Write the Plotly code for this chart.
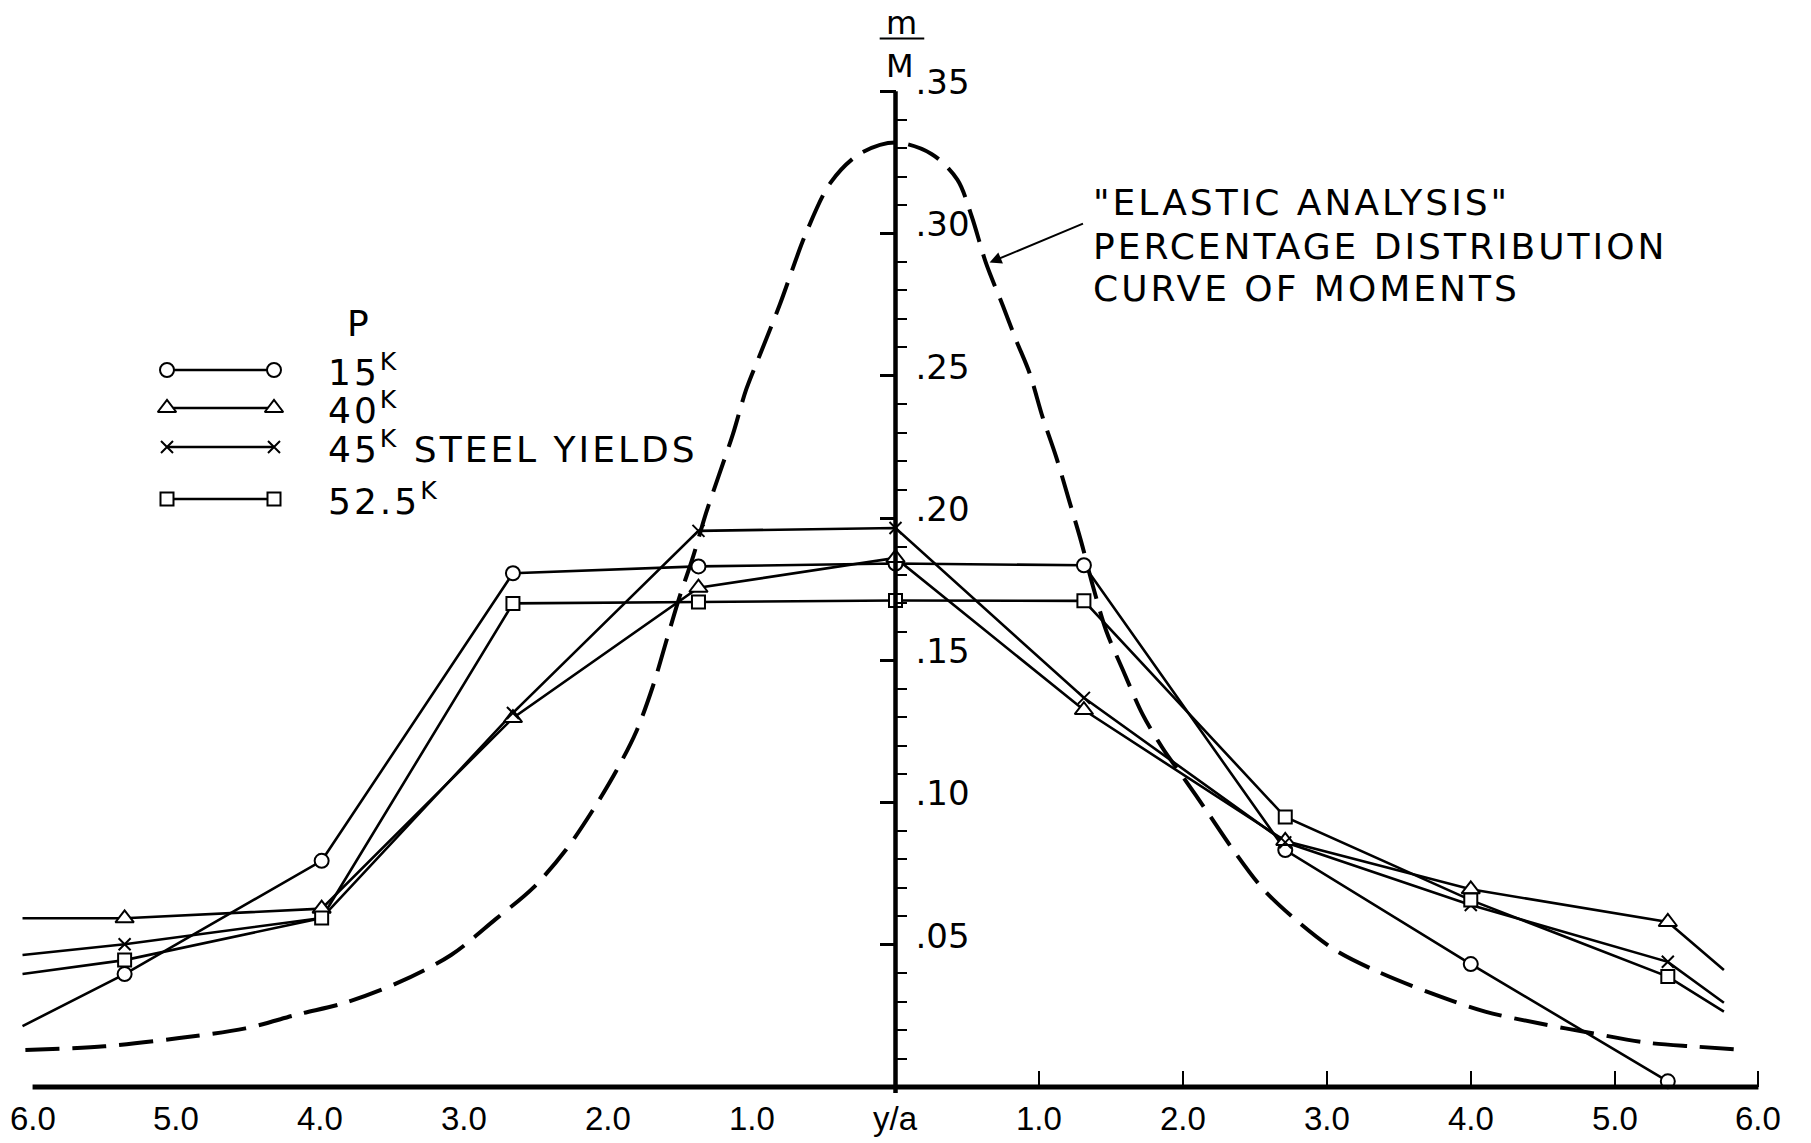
import plotly.graph_objects as go

# ---- measured moment ratios m/M across the slab width (y/a) ----
y_over_a = [-6.07, -5.36, -3.99, -2.66, -1.37, 0.0, 1.31, 2.71, 4.0, 5.37, 5.76]

m_15k = [0.0214, 0.0397, 0.0795, 0.1806, 0.1830, 0.1840, 0.1834, 0.0833, 0.0432, 0.0020, None]
m_40k = [0.0593, 0.0593, 0.0627, 0.1297, 0.1755, 0.1860, 0.1325, 0.0865, 0.0695, 0.0580, 0.0411]
m_45k = [0.0464, 0.0502, 0.0594, 0.1315, 0.1955, 0.1965, 0.1368, 0.0860, 0.0640, 0.0440, 0.0296]
m_52k = [0.0397, 0.0446, 0.0594, 0.1700, 0.1705, 0.1710, 0.1709, 0.0949, 0.0657, 0.0388, 0.0265]

# ---- "elastic analysis" distribution curve ----
elastic_x = [-6.05, -5.5, -4.98, -4.52, -4.15, -3.84, -3.47, -3.09, -2.78, -2.52, -2.29,
             -2.105, -1.942, -1.803, -1.688, -1.595, -1.502, -1.41, -1.317, -1.224, -1.131,
             -1.038, -0.946, -0.807, -0.621, -0.45, -0.25, 0.0,
             0.25, 0.43, 0.53, 0.63, 0.746, 0.839, 0.932, 1.024, 1.117, 1.21, 1.29,
             1.372, 1.465, 1.581, 1.72, 1.859, 1.998, 2.16, 2.346, 2.554, 2.785, 3.058,
             3.356, 3.728, 4.10, 4.473, 4.846, 5.22, 5.566, 5.84]
elastic_m = [0.0130, 0.0143, 0.0172, 0.0206, 0.0256, 0.0294, 0.0364, 0.0464, 0.0590, 0.0700, 0.0835,
             0.0973, 0.1111, 0.1249, 0.1407, 0.1565, 0.1722, 0.1860, 0.2018, 0.2156, 0.2294,
             0.2452, 0.2570, 0.2747, 0.3003, 0.3180, 0.3280, 0.3320,
             0.3280, 0.3190, 0.3060, 0.2895, 0.2747, 0.2625, 0.2510, 0.2353, 0.2215, 0.2057, 0.1919,
             0.1762, 0.1604, 0.1466, 0.1308, 0.1190, 0.1091, 0.0973, 0.0835, 0.0697, 0.0587, 0.0481,
             0.0405, 0.0329, 0.0265, 0.0224, 0.0189, 0.0156, 0.0142, 0.0132]

# ---- axis ticks ----
x_tick_vals = [-6, -5, -4, -3, -2, -1, 0, 1, 2, 3, 4, 5, 6]
x_tick_text = ["6.0", "5.0", "4.0", "3.0", "2.0", "1.0", "y/a",
               "1.0", "2.0", "3.0", "4.0", "5.0", "6.0"]
y_tick_vals = [0.05, 0.10, 0.15, 0.20, 0.25, 0.30, 0.35]
y_tick_text = [".05", ".10", ".15", ".20", ".25", ".30", ".35"]
y_minor_vals = [i / 100 for i in range(1, 35) if i % 5 != 0]

legend_labels = ["15<sup>K</sup>", "40<sup>K</sup>",
                 "45<sup>K</sup> STEEL YIELDS", "52.5<sup>K</sup>"]

# ---- page geometry ----
W, H = 1811, 1143
L, R, T, B = 11, 31, 6, 56
PW, PH = W - L - R, H - T - B
X_RANGE = [-6.15, 6.15]
Y_RANGE = [0.0, 0.38]

FONT = "DejaVu Sans"
INK = "black"


def spaced(s, px=3):
    return f'<span style="letter-spacing:{px}px">{s}</span>'


def to_paper(px, py):
    return (px - L) / PW, (H - B - py) / PH


def y_paper(v):
    return (v - Y_RANGE[0]) / (Y_RANGE[1] - Y_RANGE[0])


series = [
    (m_15k, "circle", 14),
    (m_40k, "triangle-up", 16),
    (m_45k, "x-thin-open", 12),
    (m_52k, "square", 13),
]

fig = go.Figure()

# elastic curve
fig.add_trace(go.Scatter(
    x=elastic_x, y=elastic_m, mode="lines",
    line=dict(color=INK, width=4, dash="34px,13px", shape="spline", smoothing=0.9),
    hoverinfo="skip"))

# measured distributions: lines first, markers on top
for vals, sym, size in series:
    fig.add_trace(go.Scatter(
        x=y_over_a, y=vals, mode="lines",
        line=dict(color=INK, width=2.6), connectgaps=False, hoverinfo="skip"))

for vals, sym, size in series:
    opac = [0 if (i == 0 or i == len(vals) - 1) else 1 for i in range(len(vals))]
    fill = INK if sym.startswith("x") else "white"
    fig.add_trace(go.Scatter(
        x=y_over_a, y=vals, mode="markers", cliponaxis=False,
        marker=dict(symbol=sym, size=size, color=fill, opacity=opac,
                    line=dict(color=INK, width=2)),
        hoverinfo="skip"))

# legend key drawn on an overlay frame in plot-area fractions
legend_rows_px = [370, 408, 447, 499]
legend_x_px = (167, 274)
for (vals, sym, size), row in zip(series, legend_rows_px):
    (x0, yy), (x1, _) = to_paper(legend_x_px[0], row), to_paper(legend_x_px[1], row)
    fill = INK if sym.startswith("x") else "white"
    fig.add_trace(go.Scatter(
        x=[x0, x1], y=[yy, yy], xaxis="x2", yaxis="y2", mode="lines+markers",
        cliponaxis=False,
        line=dict(color=INK, width=2.6),
        marker=dict(symbol=sym, size=size, color=fill, line=dict(color=INK, width=2)),
        hoverinfo="skip"))

annotations = []
px_, py_ = to_paper(358, 323)
annotations.append(dict(x=px_, y=py_, xref="paper", yref="paper", text="P",
                        showarrow=False, xanchor="center", yanchor="middle",
                        font=dict(family=FONT, size=36, color=INK)))
for lab, row in zip(legend_labels, legend_rows_px):
    lx, ly = to_paper(326, row)
    annotations.append(dict(x=lx, y=ly, xref="paper", yref="paper", text=spaced(lab),
                            showarrow=False, xanchor="left", yanchor="middle",
                            font=dict(family=FONT, size=36, color=INK)))

# x-axis labels under the base line
_, lab_y = to_paper(0, 1118)
for tv, tt in zip(x_tick_vals, x_tick_text):
    annotations.append(dict(x=tv, y=lab_y, xref="x", yref="paper", text=tt,
                            showarrow=False, xanchor="center", yanchor="middle",
                            font=dict(family="Liberation Sans", size=33, color=INK)))

# curve note and leader
note_lines = ['"ELASTIC ANALYSIS"', "PERCENTAGE DISTRIBUTION", "CURVE OF MOMENTS"]
note_y = [0.311, 0.2955, 0.2807]
for txt, ny in zip(note_lines, note_y):
    annotations.append(dict(x=1.356, y=ny, xref="x", yref="y", text=spaced(txt),
                            showarrow=False, xanchor="left", yanchor="middle",
                            font=dict(family=FONT, size=36, color=INK)))
annotations.append(dict(x=0.654, y=0.2898, xref="x", yref="y", text="",
                        ax=1.314, ay=0.3037, axref="x", ayref="y",
                        showarrow=True, arrowhead=2, arrowsize=1.2, arrowwidth=2,
                        arrowcolor=INK, standoff=0))

# m / M axis caption
annotations.append(dict(x=0.042, y=0.3739, xref="x", yref="y", text="m",
                        showarrow=False, xanchor="center", yanchor="middle",
                        font=dict(family=FONT, size=32, color=INK)))
annotations.append(dict(x=0.028, y=0.3590, xref="x", yref="y", text="M",
                        showarrow=False, xanchor="center", yanchor="middle",
                        font=dict(family=FONT, size=32, color=INK)))

shapes = [
    # horizontal base line from 6.0 to 6.0
    dict(type="line", xref="x", yref="paper", x0=-6, x1=6, y0=y_paper(0), y1=y_paper(0),
         line=dict(color=INK, width=5), layer="above"),
    # vertical m/M axis
    dict(type="line", xref="x", yref="paper", x0=0, x1=0,
         y0=y_paper(0) - 6 / PH, y1=y_paper(0.35),
         line=dict(color=INK, width=4.5), layer="above"),
    # fraction bar of the caption
    dict(type="line", xref="x", yref="y", x0=-0.11, x1=0.20, y0=0.3686, y1=0.3686,
         line=dict(color=INK, width=2), layer="above"),
]

fig.update_layout(
    width=W, height=H,
    margin=dict(l=L, r=R, t=T, b=B, pad=0),
    paper_bgcolor="white", plot_bgcolor="white",
    showlegend=False,
    font=dict(family=FONT, color=INK),
    xaxis=dict(range=X_RANGE, tickmode="array", tickvals=x_tick_vals,
               showticklabels=False,
               ticks="inside", ticklen=16, tickwidth=2, tickcolor=INK,
               showline=False, showgrid=False, zeroline=False),
    yaxis=dict(range=Y_RANGE, anchor="free", position=0.5,
               tickmode="array", tickvals=y_tick_vals, ticktext=y_tick_text,
               ticks="outside", ticklen=16, tickwidth=2.5, tickcolor=INK,
               ticklabelposition="inside", ticklabelshift=-9, ticklabelstandoff=16,
               minor=dict(tickvals=y_minor_vals, ticks="inside", ticklen=10,
                          tickwidth=2, tickcolor=INK),
               showline=False, showgrid=False, zeroline=False,
               tickfont=dict(family=FONT, size=34, color=INK)),
    xaxis2=dict(overlaying="x", range=[0, 1], visible=False, anchor="y2"),
    yaxis2=dict(overlaying="y", range=[0, 1], visible=False, anchor="x2"),
    annotations=annotations,
    shapes=shapes,
)

fig.write_html("out.html", post_script="document.body.style.margin='0';")
